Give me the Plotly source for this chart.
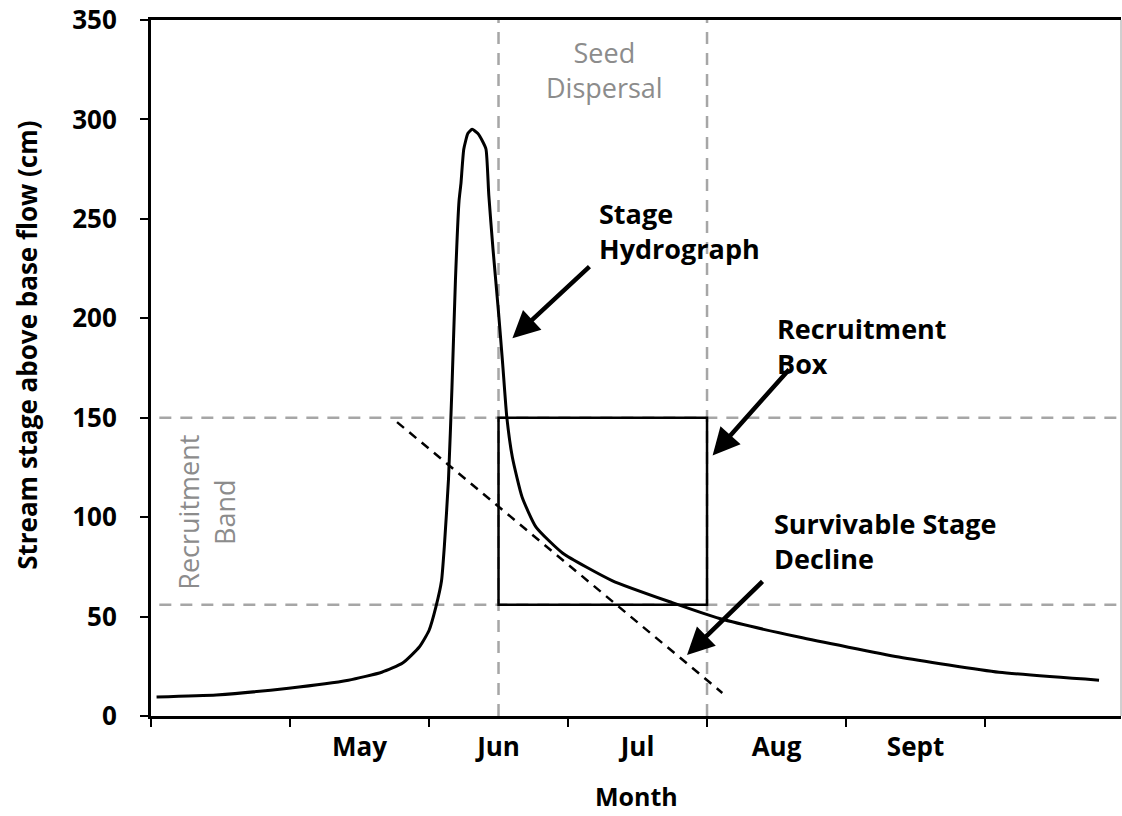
import plotly.graph_objects as go

# stage hydrograph, x in month units (0 = start of axis, ticks every month)
stage_x = [0.04, 0.47, 0.99, 1.42, 1.66, 1.81, 1.93, 2.0, 2.05, 2.09, 2.11, 2.14,
           2.165, 2.19, 2.216, 2.23, 2.25, 2.28, 2.31, 2.35, 2.385, 2.41, 2.43,
           2.46, 2.50, 2.53, 2.56, 2.60, 2.67, 2.77, 2.96, 3.32, 3.75, 4.09,
           4.66, 5.38, 6.10, 6.82]
stage_y = [9.6, 10.6, 14, 18, 22, 26.6, 34.7, 43, 55, 68, 85, 119,
           165, 219, 259, 268, 285, 293, 295, 293, 289, 285, 262,
           235, 203, 177, 150, 130, 110, 95, 82, 68, 57, 49,
           39.7, 29.7, 22, 18]

# survivable stage decline line
decline_x = [1.77, 4.11]
decline_y = [147.8, 11.6]

# recruitment band / box, seed dispersal window
band_y = [56, 150]
dispersal_x = [2.5, 4.0]

month_pos = [1.5, 2.5, 3.5, 4.5, 5.5]
month_labels = ["May", "Jun", "Jul", "Aug", "Sept"]

FONT = "Open Sans"
GREY = "#a6a6a6"
GREY_TXT = "#8c8c8c"

fig = go.Figure()

fig.add_trace(
    go.Scatter(
        x=decline_x,
        y=decline_y,
        mode="lines",
        line=dict(color="black", width=2.5, dash="9px,7px"),
        showlegend=False,
    )
)

fig.add_trace(
    go.Scatter(
        x=stage_x,
        y=stage_y,
        mode="lines",
        line=dict(color="black", width=3, shape="spline", smoothing=0.5),
        showlegend=False,
    )
)

# grey dashed guide lines
for xv in dispersal_x:
    fig.add_shape(
        type="line", xref="x", yref="paper",
        x0=xv, x1=xv, y0=0, y1=1,
        line=dict(color=GREY, width=2.5, dash="12px,9px"),
        layer="below",
    )
for yv in band_y:
    fig.add_shape(
        type="line", xref="x", yref="y",
        x0=0.06, x1=7, y0=yv, y1=yv,
        line=dict(color=GREY, width=2.5, dash="12px,9px"),
        layer="below",
    )

# recruitment box
fig.add_shape(
    type="rect", xref="x", yref="y",
    x0=dispersal_x[0], x1=dispersal_x[1], y0=band_y[0], y1=band_y[1],
    line=dict(color="black", width=2.5),
)

# thin right border
fig.add_shape(
    type="line", xref="paper", yref="paper",
    x0=1, x1=1, y0=0, y1=1,
    line=dict(color="#a0a0a0", width=1),
)

# arrows (head x,y ; tail ax,ay)
arrows = [
    (2.60, 190, 3.165, 226.7),
    (4.04, 131, 4.60, 175),
    (3.856, 30.7, 4.41, 68.4),
]
for hx, hy, tx, ty in arrows:
    fig.add_annotation(
        x=hx, y=hy, ax=tx, ay=ty,
        xref="x", yref="y", axref="x", ayref="y",
        text="", showarrow=True,
        arrowhead=2, arrowsize=1.2, arrowwidth=4.5, arrowcolor="black",
    )

labels = [
    ("<b>Stage<br>Hydrograph</b>", 3.21, 244),
    ("<b>Recruitment<br>Box</b>", 4.49, 186),
    ("<b>Survivable Stage<br>Decline</b>", 4.47, 88),
]
for txt, lx, ly in labels:
    fig.add_annotation(
        x=lx, y=ly, xref="x", yref="y",
        text=txt, showarrow=False, xanchor="left", align="left",
        font=dict(family=FONT, size=27, color="black"),
    )

fig.add_annotation(
    x=3.26, y=325, xref="x", yref="y",
    text="Seed<br>Dispersal", showarrow=False,
    font=dict(family=FONT, size=27, color=GREY_TXT),
)
fig.add_annotation(
    x=0.40, y=102.5, xref="x", yref="y",
    text="Recruitment<br>Band", showarrow=False, textangle=-90,
    font=dict(family=FONT, size=27, color=GREY_TXT),
)

# axis titles
fig.add_annotation(
    x=-0.128, y=0.533, xref="paper", yref="paper",
    xanchor="center", yanchor="middle",
    text="<b>Stream stage above base flow (cm)</b>", showarrow=False,
    textangle=-90, font=dict(family=FONT, size=26, color="black"),
)
fig.add_annotation(
    x=0.5, y=-0.115, xref="paper", yref="paper",
    xanchor="center", yanchor="middle",
    text="<b>Month</b>", showarrow=False,
    font=dict(family=FONT, size=25, color="black"),
)

fig.update_layout(
    width=1122,
    height=816,
    margin=dict(l=151, r=1, t=20, b=100),
    plot_bgcolor="white",
    paper_bgcolor="white",
    font=dict(family=FONT, color="black"),
    xaxis=dict(
        range=[0, 6.978],
        tickmode="array",
        tickvals=month_pos,
        ticktext=["<b>%s</b>" % m for m in month_labels],
        ticks="",
        tickfont=dict(size=26),
        ticklabelstandoff=6,
        ticklabeloverflow="allow",
        automargin=False,
        showline=True, linecolor="black", linewidth=3, mirror=True,
        showgrid=False, zeroline=False,
        minor=dict(tickmode="linear", tick0=0, dtick=1, ticks="outside",
                   ticklen=8, tickwidth=2, tickcolor="black", showgrid=False),
    ),
    yaxis=dict(
        range=[0, 350],
        tickmode="linear", tick0=0, dtick=50,
        ticks="outside", ticklen=8, tickwidth=2, tickcolor="black",
        tickfont=dict(size=26),
        tickprefix="<b>", ticksuffix="</b>",
        ticklabelstandoff=18,
        ticklabeloverflow="allow",
        automargin=False,
        showline=True, linecolor="black", linewidth=3,
        showgrid=False, zeroline=False,
    ),
)

# drop the default 8px page margin so the figure sits at the window corner
fig.write_html(
    "out.html",
    config={"displayModeBar": False},
    post_script="document.body.style.margin='0px';",
)
